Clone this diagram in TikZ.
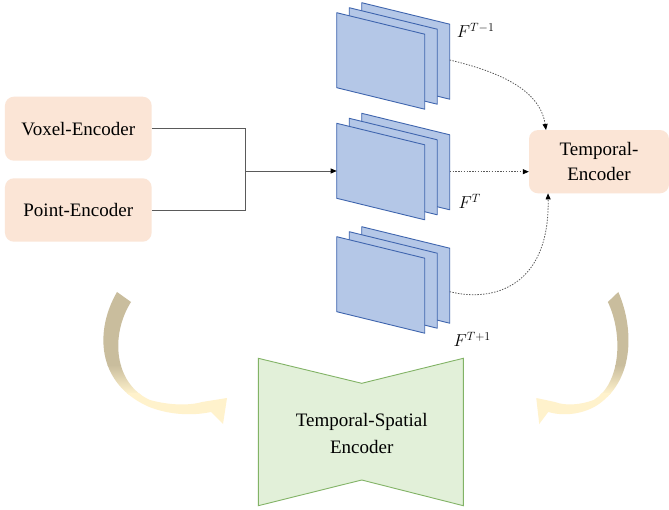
\documentclass[tikz,border=0pt]{standalone}
\usepackage{fontspec}
\setmainfont{Liberation Serif}
\usetikzlibrary{arrows.meta}
\definecolor{peach}{HTML}{FBE5D6}
\definecolor{sheetfill}{HTML}{B4C7E7}
\definecolor{sheetdraw}{HTML}{3F65AE}
\definecolor{tsefill}{HTML}{E2F0D9}
\definecolor{tsedraw}{HTML}{82B366}
\definecolor{linegray}{HTML}{5A5A5A}
\definecolor{tanc}{HTML}{C9BD9D}
\definecolor{ylwc}{HTML}{FFF2CC}
\tikzset{
  encbox/.style={fill=peach, draw=none, rounded corners=9pt, inner sep=0pt,
    font=\fontsize{19}{25}\selectfont, align=center},
  sheet/.style={fill=sheetfill, draw=sheetdraw, line width=0.9pt, line join=round},
  conn/.style={draw=linegray, line width=0.8pt},
  dotconn/.style={draw=linegray, line width=0.8pt, dash pattern=on 1.4pt off 1.4pt},
  arr/.style={-{Triangle[length=6pt,width=5pt,color=black]}},
  flabel/.style={anchor=base west, inner sep=0pt, font=\fontsize{18}{18}\selectfont},
}
\newcommand\fmstack[1]{%
  \begin{scope}[shift={(0,#1)}]
    \draw[sheet] (361.7,-10) -- ++(88,21.5) -- ++(0,75) -- ++(-88,-21.5) -- cycle;
    \draw[sheet] (349.2,-5) -- ++(88,21.5) -- ++(0,75) -- ++(-88,-21.5) -- cycle;
    \draw[sheet] (336.7,0) -- ++(88,21.5) -- ++(0,75) -- ++(-88,-21.5) -- cycle;
  \end{scope}}
\newcommand\curvedarrowpath{(117,292) .. controls (95,330) and (96,382) .. (147,406)
  .. controls (168,415) and (192,416) .. (211,412) -- (223,424) -- (227,398) -- (202,402)
  .. controls (188,406) and (168,405) .. (150,400)
  .. controls (114,384) and (110,335) .. (131,302) -- cycle}
\newcommand\curvedarrow{%
  \begin{scope}
    \clip \curvedarrowpath;
    \fill[tanc] (85,285) rectangle (240,366);
    \shade[top color=tanc, bottom color=ylwc] (85,365) rectangle (240,394);
    \fill[ylwc] (85,393) rectangle (240,430);
  \end{scope}}
\begin{document}
\begin{tikzpicture}[x=1pt,y=-1pt]
\useasboundingbox (0,0) rectangle (669,510);
\fill[white] (0,0) rectangle (669,510);

% feature-map stacks
\fmstack{12.7}
\fmstack{123.3}
\fmstack{236.7}
\coordinate (topout) at (449.7,60);
\coordinate (midout) at (449.7,171.7);
\coordinate (botout) at (449.7,291.7);
\coordinate (midin) at (336.7,171);

\node[flabel] (ftm1) at (456.7,37.3) {$F^{T-1}$};
\node[flabel] (ft) at (458.3,209) {$F^{T}$};
\node[flabel] (ftp1) at (453.3,347) {$F^{T+1}$};

% encoders
\node[encbox, minimum width=146.7pt, minimum height=64pt] (voxel) at (78.3,128.7) {Voxel-Encoder};
\node[encbox, minimum width=146.7pt, minimum height=63.4pt] (point) at (78.3,210) {Point-Encoder};
\node[encbox, minimum width=140pt, minimum height=63.3pt] (temporal) at (599,161.7) {Temporal-\\Encoder};
\coordinate (tetop) at (546,130);
\coordinate (tebot) at (548,193.4);

% solid connectors
\coordinate (jn) at (245,171);
\draw[conn] (voxel.east) -| (jn);
\draw[conn] (point.east) -| (jn);
\draw[conn, arr] (jn) -- (midin);

% dotted connectors
\draw[dotconn, arr] (topout) .. controls (500,72) and (540,90) .. (tetop);
\draw[dotconn, arr] (midout) -- (midout -| temporal.west);
\draw[dotconn, arr] (botout) .. controls (495,303) and (550,285) .. (tebot);

% temporal-spatial encoder
\draw[fill=tsefill, draw=tsedraw, line width=0.9pt, line join=miter]
  (258.3,358.3) -- (361.7,383.3) -- (463.3,358.3) -- (463.3,505.7)
  -- (361.7,480) -- (258.3,505.7) -- cycle;
\node[font=\fontsize{19}{26.5}\selectfont, align=center, inner sep=0pt] (tse) at (361.7,433.3)
  {Temporal-Spatial\\Encoder};

% curved arrows
\curvedarrow
\begin{scope}[shift={(705.6,0)}, xscale=-0.746]
  \curvedarrow
\end{scope}
\end{tikzpicture}
\end{document}
